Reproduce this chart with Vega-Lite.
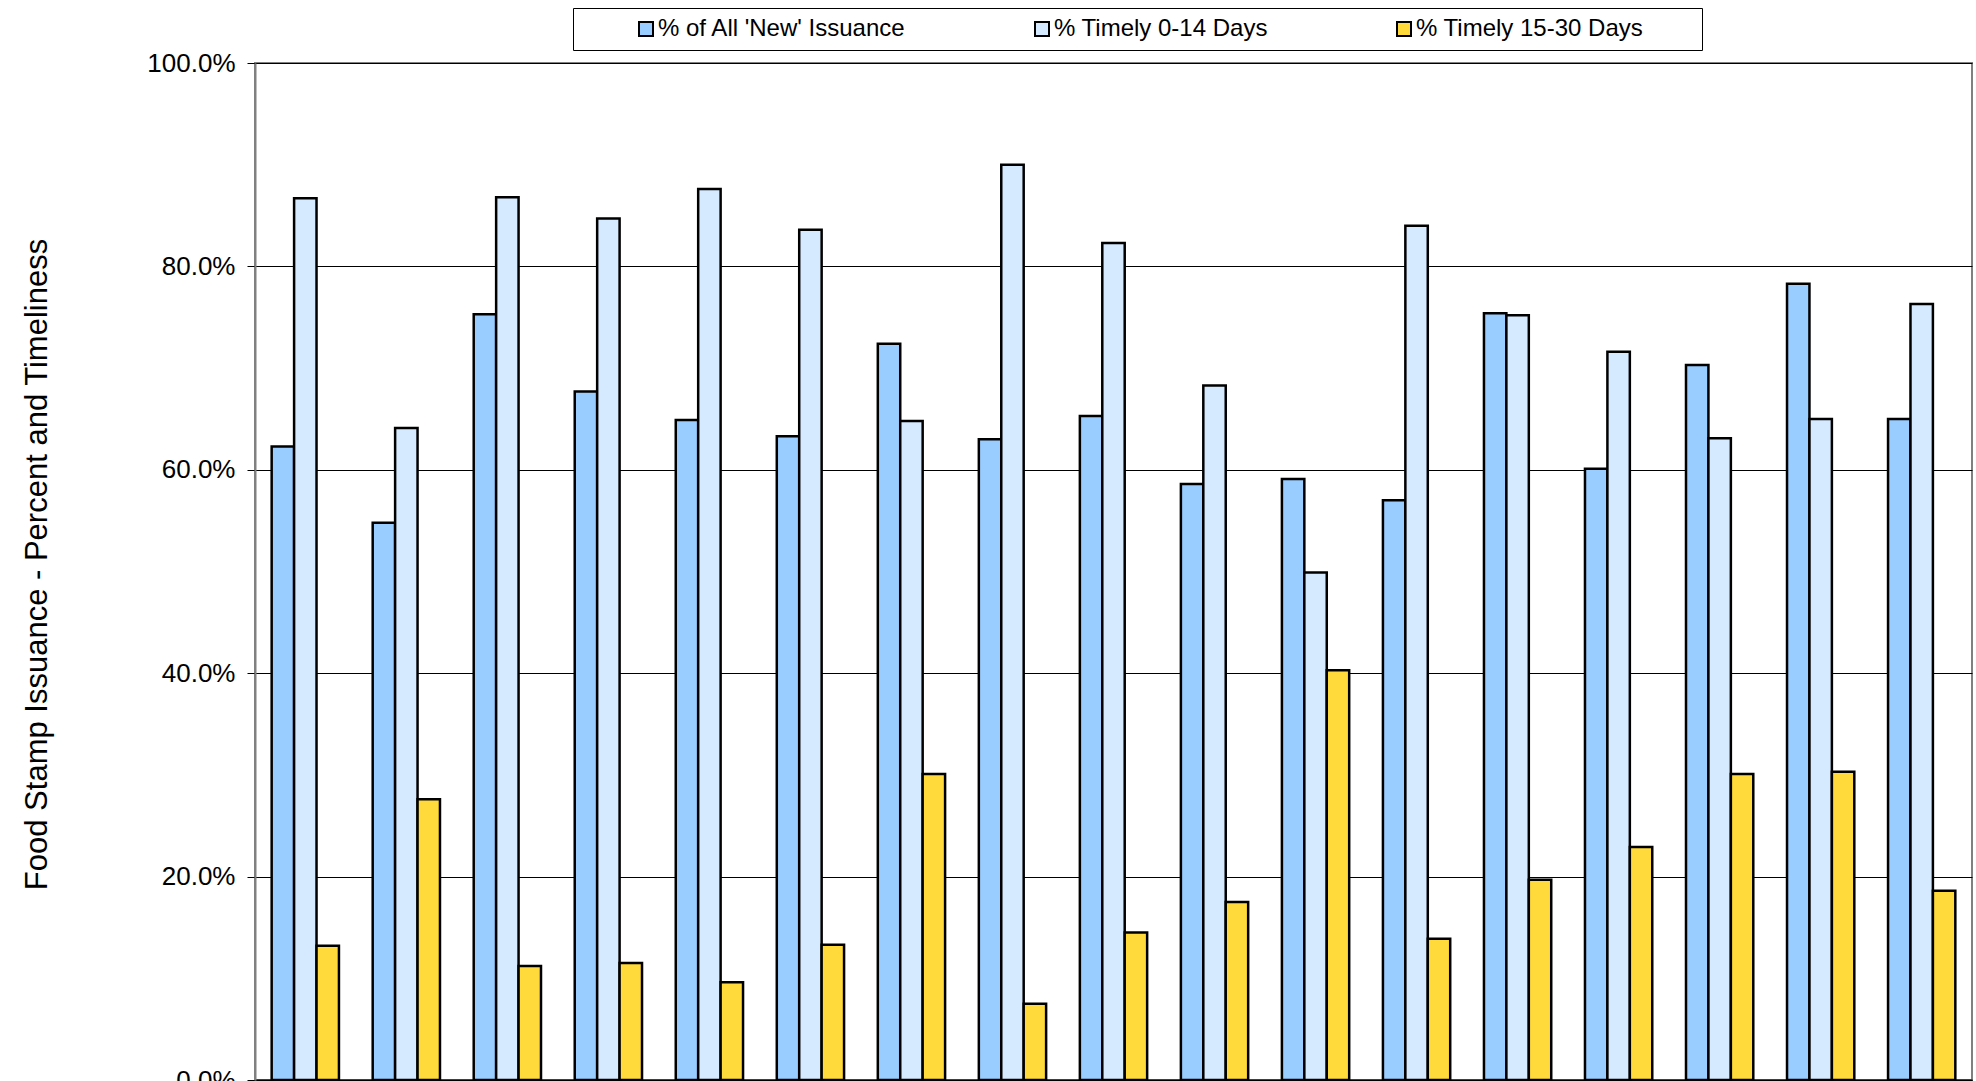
{
  "$schema": "https://vega.github.io/schema/vega-lite/v6.json",
  "width": 1717,
  "height": 1017,
  "autosize": {"type": "none"},
  "padding": {"left": 255, "top": 63, "right": 4, "bottom": 1},
  "background": "white",
  "config": {
    "font": "Liberation Sans",
    "view": {"stroke": "#808080", "strokeWidth": 2}
  },
  "data": {
    "values": [
      {"group": "1", "series": "% of All 'New' Issuance", "value": 62.3},
      {"group": "1", "series": "% Timely 0-14 Days", "value": 86.7},
      {"group": "1", "series": "% Timely 15-30 Days", "value": 13.2},
      {"group": "2", "series": "% of All 'New' Issuance", "value": 54.8},
      {"group": "2", "series": "% Timely 0-14 Days", "value": 64.1},
      {"group": "2", "series": "% Timely 15-30 Days", "value": 27.6},
      {"group": "3", "series": "% of All 'New' Issuance", "value": 75.3},
      {"group": "3", "series": "% Timely 0-14 Days", "value": 86.8},
      {"group": "3", "series": "% Timely 15-30 Days", "value": 11.2},
      {"group": "4", "series": "% of All 'New' Issuance", "value": 67.7},
      {"group": "4", "series": "% Timely 0-14 Days", "value": 84.7},
      {"group": "4", "series": "% Timely 15-30 Days", "value": 11.5},
      {"group": "5", "series": "% of All 'New' Issuance", "value": 64.9},
      {"group": "5", "series": "% Timely 0-14 Days", "value": 87.6},
      {"group": "5", "series": "% Timely 15-30 Days", "value": 9.6},
      {"group": "6", "series": "% of All 'New' Issuance", "value": 63.3},
      {"group": "6", "series": "% Timely 0-14 Days", "value": 83.6},
      {"group": "6", "series": "% Timely 15-30 Days", "value": 13.3},
      {"group": "7", "series": "% of All 'New' Issuance", "value": 72.4},
      {"group": "7", "series": "% Timely 0-14 Days", "value": 64.8},
      {"group": "7", "series": "% Timely 15-30 Days", "value": 30.1},
      {"group": "8", "series": "% of All 'New' Issuance", "value": 63.0},
      {"group": "8", "series": "% Timely 0-14 Days", "value": 90.0},
      {"group": "8", "series": "% Timely 15-30 Days", "value": 7.5},
      {"group": "9", "series": "% of All 'New' Issuance", "value": 65.3},
      {"group": "9", "series": "% Timely 0-14 Days", "value": 82.3},
      {"group": "9", "series": "% Timely 15-30 Days", "value": 14.5},
      {"group": "10", "series": "% of All 'New' Issuance", "value": 58.6},
      {"group": "10", "series": "% Timely 0-14 Days", "value": 68.3},
      {"group": "10", "series": "% Timely 15-30 Days", "value": 17.5},
      {"group": "11", "series": "% of All 'New' Issuance", "value": 59.1},
      {"group": "11", "series": "% Timely 0-14 Days", "value": 49.9},
      {"group": "11", "series": "% Timely 15-30 Days", "value": 40.3},
      {"group": "12", "series": "% of All 'New' Issuance", "value": 57.0},
      {"group": "12", "series": "% Timely 0-14 Days", "value": 84.0},
      {"group": "12", "series": "% Timely 15-30 Days", "value": 13.9},
      {"group": "13", "series": "% of All 'New' Issuance", "value": 75.4},
      {"group": "13", "series": "% Timely 0-14 Days", "value": 75.2},
      {"group": "13", "series": "% Timely 15-30 Days", "value": 19.7},
      {"group": "14", "series": "% of All 'New' Issuance", "value": 60.1},
      {"group": "14", "series": "% Timely 0-14 Days", "value": 71.6},
      {"group": "14", "series": "% Timely 15-30 Days", "value": 22.9},
      {"group": "15", "series": "% of All 'New' Issuance", "value": 70.3},
      {"group": "15", "series": "% Timely 0-14 Days", "value": 63.1},
      {"group": "15", "series": "% Timely 15-30 Days", "value": 30.1},
      {"group": "16", "series": "% of All 'New' Issuance", "value": 78.3},
      {"group": "16", "series": "% Timely 0-14 Days", "value": 65.0},
      {"group": "16", "series": "% Timely 15-30 Days", "value": 30.3},
      {"group": "17", "series": "% of All 'New' Issuance", "value": 65.0},
      {"group": "17", "series": "% Timely 0-14 Days", "value": 76.3},
      {"group": "17", "series": "% Timely 15-30 Days", "value": 18.6}
    ]
  },
  "mark": {"type": "bar", "stroke": "black", "strokeWidth": 2.5},
  "encoding": {
    "x": {
      "field": "group",
      "type": "ordinal",
      "sort": null,
      "scale": {"paddingInner": 0.334, "paddingOuter": 0.165},
      "axis": {"labels": false, "ticks": false, "title": null, "domainColor": "black", "domainWidth": 2}
    },
    "xOffset": {
      "field": "series",
      "type": "nominal",
      "sort": ["% of All 'New' Issuance", "% Timely 0-14 Days", "% Timely 15-30 Days"],
      "scale": {"paddingInner": 0, "paddingOuter": 0}
    },
    "y": {
      "field": "value",
      "type": "quantitative",
      "scale": {"domain": [0, 100], "nice": false},
      "axis": {
        "values": [0, 20, 40, 60, 80, 100],
        "labelExpr": "format(datum.value, '.1f') + '%'",
        "labelFontSize": 26,
        "labelColor": "black",
        "labelPadding": 12,
        "tickSize": 8,
        "tickColor": "black",
        "domainColor": "#808080",
        "domainWidth": 2,
        "gridColor": "#000000",
        "gridWidth": 1,
        "title": "Food Stamp Issuance - Percent  and Timeliness",
        "titleFontSize": 31,
        "titleFontWeight": "normal",
        "titleColor": "black",
        "titleAngle": -90,
        "titleX": -218,
        "titleY": 501,
        "titleAlign": "center",
        "titleBaseline": "middle"
      }
    },
    "color": {
      "field": "series",
      "type": "nominal",
      "sort": ["% of All 'New' Issuance", "% Timely 0-14 Days", "% Timely 15-30 Days"],
      "scale": {
        "domain": ["% of All 'New' Issuance", "% Timely 0-14 Days", "% Timely 15-30 Days"],
        "range": ["#99CCFF", "#D5E9FF", "#FFDA3A"]
      },
      "legend": {
        "title": "\u00a0",
        "titleOrient": "right",
        "titlePadding": 50,
        "titleFontSize": 24,
        "orient": "none",
        "legendX": 318,
        "legendY": -55,
        "direction": "horizontal",
        "symbolType": "square",
        "symbolSize": 196,
        "symbolStrokeColor": "black",
        "symbolStrokeWidth": 2,
        "symbolOffset": 52,
        "labelOffset": 0,
        "labelFontSize": 24,
        "labelLimit": 500,
        "labelColor": "black",
        "columnPadding": 72,
        "padding": 9,
        "strokeColor": "black",
        "fillColor": "white"
      }
    }
  }
}
